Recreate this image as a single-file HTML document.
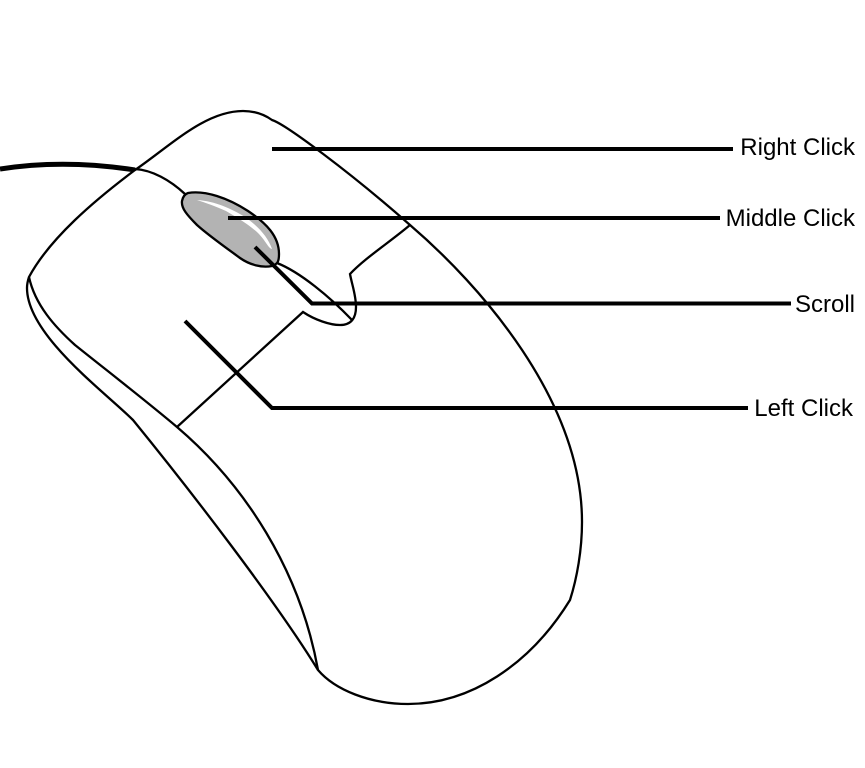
<!DOCTYPE html>
<html>
<head>
<meta charset="utf-8">
<style>
html,body{margin:0;padding:0;background:#fff;}
svg{display:block;}
text{font-family:"Liberation Sans",Arial,sans-serif;font-size:24px;fill:#000;}
</style>
</head>
<body>
<svg width="865" height="768" viewBox="0 0 865 768">
<path d="M0 169 C45 162 90 163 135 170" fill="none" stroke="#000" stroke-width="5"/>
<path d="M29 277 C50 238 95 200 135 170 C170 146 205 111 243 111 C255 111 265 115 272 120 C285 124 350 172 410 225 C480 285 582 400 582 522 C582 550 577 578 570 600 C530 665 470 704 408 704 C370 704 335 690 318 670 C275 600 190 490 133 420 C105 392 27 335 27 288 C27 283 28 280 29 277 Z" fill="#fff" stroke="#000" stroke-width="2.3"/>
<path d="M29 277 C35 305 55 327 75 345 C110 373 145 400 177 427 C245 485 300 570 318 670" fill="none" stroke="#000" stroke-width="2.3"/>
<path d="M177 427 L303 312 C315 320 330 325 340 325 C352 325 356 317 356 307 C356 295 352 285 350 274 C365 258 390 242 410 225" fill="none" stroke="#000" stroke-width="2.3"/>
<path d="M135 169 C152 170 170 180 185 194" fill="none" stroke="#000" stroke-width="2.3"/>
<path d="M277 263 C300 272 330 297 352 320" fill="none" stroke="#000" stroke-width="2.3"/>
<path d="M188 193 C205 190 228 198 248 211 C266 223 279 236 279 254 C279 261 278 264 272 266 C262 268 250 265 240 258 C225 247 208 235 197 225 C187 215 181 208 182 201 C183 196 185 194 188 193 Z" fill="#b3b3b3" stroke="#000" stroke-width="2.3"/>
<path d="M197 200 C215 201 232 209 245 217 C258 226 268 237 272 249 C268 248 266 241 258 233 C248 224 238 218 226 211 C215 206 206 203 197 200 Z" fill="#fff"/>
<path d="M272 149 H733" fill="none" stroke="#000" stroke-width="4"/>
<path d="M228 218 H720" fill="none" stroke="#000" stroke-width="4"/>
<path d="M255 247 L312 303.5 H791" fill="none" stroke="#000" stroke-width="4"/>
<path d="M185 321 L272 408 H748" fill="none" stroke="#000" stroke-width="4"/>
<text x="855" y="155" text-anchor="end">Right Click</text>
<text x="855" y="226" text-anchor="end">Middle Click</text>
<text x="855" y="312" text-anchor="end">Scroll</text>
<text x="853" y="416" text-anchor="end">Left Click</text>
</svg>
</body>
</html>
